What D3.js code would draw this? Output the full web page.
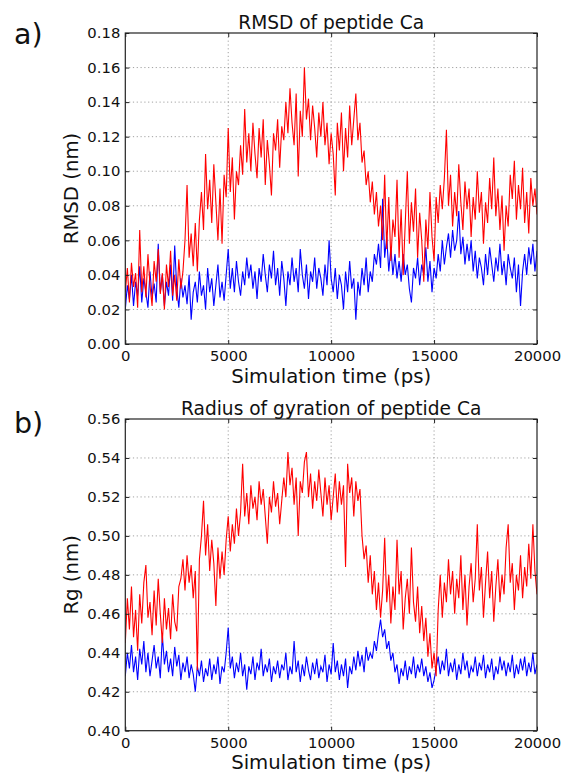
<!DOCTYPE html>
<html>
<head>
<meta charset="utf-8">
<script src="https://cdn.jsdelivr.net/npm/d3@7"></script>
<style>
  body { margin: 0; background: #fff; }
  text { font-family: "DejaVu Sans", sans-serif; fill: #111; }
</style>
</head>
<body>
<div id="chart"></div>
<script>
// sampled every 100 ps, 0 .. 20000 ps
const timeStep = 100;

const xTicks = [0, 5000, 10000, 15000, 20000];
const rmsdTicks = [0.00, 0.02, 0.04, 0.06, 0.08, 0.10, 0.12, 0.14, 0.16, 0.18];
const rgTicks = [0.40, 0.42, 0.44, 0.46, 0.48, 0.50, 0.52, 0.54, 0.56];

// RMSD (nm), red trace
const rmsdRed = [
  0.030,0.044,0.024,0.047,0.033,0.041,0.021,0.066,0.030,0.045,
  0.027,0.052,0.034,0.022,0.048,0.036,0.055,0.029,0.041,0.020,
  0.046,0.033,0.054,0.028,0.040,0.025,0.049,0.032,0.042,0.060,
  0.092,0.050,0.064,0.045,0.070,0.042,0.072,0.088,0.066,0.110,
  0.078,0.095,0.070,0.104,0.082,0.060,0.090,0.058,0.098,0.085,
  0.125,0.088,0.108,0.072,0.100,0.092,0.115,0.098,0.136,0.105,
  0.122,0.100,0.128,0.110,0.096,0.125,0.108,0.130,0.092,0.118,
  0.104,0.086,0.122,0.112,0.130,0.102,0.126,0.118,0.140,0.122,
  0.148,0.128,0.115,0.145,0.097,0.135,0.120,0.160,0.130,0.142,
  0.118,0.138,0.125,0.108,0.134,0.120,0.140,0.115,0.128,0.104,
  0.122,0.110,0.086,0.128,0.112,0.134,0.100,0.125,0.108,0.138,
  0.115,0.130,0.145,0.118,0.128,0.105,0.112,0.092,0.100,0.082,
  0.094,0.075,0.088,0.068,0.080,0.060,0.098,0.055,0.085,0.048,
  0.072,0.062,0.095,0.050,0.078,0.040,0.070,0.100,0.058,0.082,
  0.065,0.090,0.050,0.076,0.060,0.036,0.072,0.055,0.088,0.062,
  0.048,0.085,0.070,0.092,0.078,0.096,0.124,0.080,0.098,0.068,
  0.088,0.074,0.104,0.082,0.066,0.094,0.078,0.090,0.062,0.085,
  0.072,0.100,0.076,0.088,0.058,0.082,0.070,0.096,0.078,0.108,
  0.074,0.090,0.066,0.086,0.054,0.080,0.068,0.098,0.084,0.106,
  0.072,0.092,0.078,0.102,0.070,0.088,0.064,0.096,0.080,0.090,
  0.075
];

// RMSD (nm), blue trace
const rmsdBlue = [
  0.020,0.034,0.026,0.040,0.022,0.036,0.028,0.045,0.024,0.038,
  0.030,0.021,0.042,0.027,0.035,0.024,0.058,0.030,0.040,0.022,
  0.036,0.028,0.046,0.025,0.057,0.032,0.021,0.038,0.027,0.034,
  0.023,0.040,0.014,0.030,0.036,0.024,0.042,0.028,0.034,0.020,
  0.044,0.030,0.038,0.022,0.034,0.046,0.027,0.036,0.025,0.040,
  0.055,0.032,0.044,0.030,0.048,0.036,0.028,0.042,0.034,0.050,
  0.038,0.046,0.032,0.042,0.026,0.044,0.036,0.052,0.040,0.030,
  0.046,0.038,0.054,0.034,0.044,0.028,0.048,0.038,0.022,0.042,
  0.034,0.050,0.036,0.044,0.030,0.055,0.040,0.032,0.046,0.026,
  0.042,0.036,0.050,0.032,0.044,0.038,0.028,0.046,0.034,0.060,
  0.038,0.030,0.044,0.026,0.040,0.034,0.020,0.042,0.030,0.048,
  0.032,0.038,0.014,0.036,0.028,0.044,0.034,0.050,0.030,0.042,
  0.036,0.052,0.046,0.058,0.044,0.084,0.050,0.062,0.042,0.056,
  0.040,0.052,0.038,0.048,0.036,0.052,0.040,0.046,0.032,0.024,
  0.044,0.038,0.050,0.034,0.046,0.040,0.056,0.036,0.048,0.030,
  0.044,0.038,0.052,0.042,0.060,0.046,0.056,0.064,0.050,0.066,
  0.054,0.060,0.077,0.052,0.062,0.046,0.058,0.048,0.060,0.042,
  0.054,0.038,0.050,0.044,0.034,0.052,0.040,0.056,0.046,0.036,
  0.050,0.042,0.058,0.040,0.048,0.034,0.052,0.044,0.038,0.050,
  0.030,0.046,0.022,0.042,0.052,0.040,0.056,0.046,0.058,0.042,
  0.054
];

// radius of gyration (nm), red trace
const rgRed = [
  0.445,0.468,0.452,0.474,0.448,0.462,0.441,0.470,0.455,0.476,
  0.485,0.458,0.466,0.449,0.472,0.454,0.478,0.460,0.445,0.468,
  0.452,0.463,0.447,0.470,0.456,0.451,0.474,0.478,0.488,0.472,
  0.490,0.476,0.485,0.468,0.482,0.431,0.488,0.500,0.518,0.490,
  0.506,0.482,0.498,0.486,0.464,0.494,0.478,0.492,0.480,0.498,
  0.510,0.492,0.506,0.496,0.514,0.500,0.512,0.537,0.510,0.522,
  0.506,0.526,0.514,0.520,0.508,0.528,0.516,0.524,0.510,0.496,
  0.520,0.512,0.528,0.515,0.522,0.506,0.518,0.530,0.520,0.543,
  0.526,0.535,0.516,0.530,0.500,0.528,0.522,0.538,0.543,0.520,
  0.532,0.514,0.528,0.518,0.534,0.522,0.510,0.530,0.516,0.526,
  0.508,0.520,0.532,0.512,0.528,0.516,0.526,0.484,0.537,0.522,
  0.530,0.510,0.528,0.518,0.524,0.500,0.488,0.495,0.476,0.490,
  0.470,0.482,0.462,0.476,0.458,0.472,0.499,0.466,0.480,0.455,
  0.474,0.462,0.498,0.470,0.482,0.452,0.468,0.478,0.460,0.494,
  0.466,0.456,0.474,0.450,0.464,0.446,0.458,0.438,0.450,0.432,
  0.440,0.428,0.462,0.480,0.458,0.476,0.466,0.488,0.470,0.482,
  0.460,0.478,0.468,0.490,0.462,0.480,0.454,0.474,0.486,0.466,
  0.478,0.506,0.472,0.484,0.458,0.476,0.492,0.468,0.482,0.456,
  0.474,0.488,0.466,0.480,0.470,0.494,0.506,0.476,0.486,0.462,
  0.480,0.472,0.490,0.468,0.484,0.474,0.496,0.478,0.506,0.482,
  0.470
];

// radius of gyration (nm), blue trace
const rgBlue = [
  0.428,0.440,0.432,0.444,0.430,0.438,0.426,0.442,0.434,0.446,
  0.430,0.440,0.428,0.436,0.444,0.432,0.438,0.427,0.449,0.434,
  0.441,0.430,0.437,0.428,0.443,0.433,0.439,0.426,0.435,0.430,
  0.438,0.427,0.434,0.429,0.420,0.433,0.428,0.436,0.425,0.432,
  0.428,0.437,0.426,0.434,0.429,0.438,0.424,0.433,0.430,0.440,
  0.453,0.432,0.438,0.427,0.435,0.430,0.440,0.428,0.434,0.421,
  0.433,0.429,0.438,0.426,0.435,0.431,0.442,0.428,0.434,0.430,
  0.437,0.425,0.433,0.429,0.436,0.427,0.434,0.431,0.440,0.426,
  0.433,0.429,0.446,0.430,0.436,0.425,0.434,0.428,0.438,0.431,
  0.426,0.435,0.429,0.437,0.427,0.433,0.430,0.439,0.425,0.434,
  0.429,0.445,0.430,0.436,0.426,0.434,0.428,0.437,0.422,0.433,
  0.429,0.438,0.431,0.441,0.433,0.439,0.430,0.443,0.436,0.440,
  0.437,0.446,0.441,0.450,0.457,0.448,0.452,0.442,0.446,0.436,
  0.440,0.430,0.434,0.424,0.432,0.428,0.436,0.426,0.433,0.429,
  0.438,0.427,0.434,0.430,0.437,0.428,0.433,0.425,0.430,0.422,
  0.426,0.432,0.438,0.429,0.436,0.431,0.442,0.428,0.435,0.430,
  0.437,0.426,0.434,0.429,0.440,0.431,0.436,0.427,0.433,0.430,
  0.438,0.428,0.435,0.431,0.439,0.427,0.434,0.430,0.437,0.426,
  0.433,0.429,0.438,0.431,0.436,0.428,0.435,0.430,0.439,0.427,
  0.434,0.429,0.437,0.431,0.438,0.428,0.435,0.430,0.440,0.429,
  0.434
];

let width = 562, height = 776;

let svg = d3.select("#chart")
  .append("svg")
    .attr("width", width)
    .attr("height", height);

let x = d3.scaleLinear()
    .domain([0, 20000])
    .range([125.3, 537]);

function drawPanel(opts) {
  let y = d3.scaleLinear()
      .domain(opts.domain)
      .range([opts.bottom, opts.top]);

  let g = svg.append("g");
  let clipId = "clip-" + opts.tag;

  g.append("clipPath")
      .attr("id", clipId)
    .append("rect")
      .attr("x", x.range()[0])
      .attr("y", opts.top)
      .attr("width", x.range()[1] - x.range()[0])
      .attr("height", opts.bottom - opts.top);

  // dotted grid
  g.append("g")
    .selectAll("line")
    .data(opts.yTicks.slice(1, -1))
    .join("line")
      .attr("x1", x.range()[0])
      .attr("x2", x.range()[1])
      .attr("y1", d => y(d))
      .attr("y2", d => y(d))
      .attr("stroke", "#8a8a8a")
      .attr("stroke-width", 0.8)
      .attr("stroke-dasharray", "1.2,2.6");

  g.append("g")
    .selectAll("line")
    .data(xTicks.slice(1, -1))
    .join("line")
      .attr("x1", d => x(d))
      .attr("x2", d => x(d))
      .attr("y1", opts.top)
      .attr("y2", opts.bottom)
      .attr("stroke", "#8a8a8a")
      .attr("stroke-width", 0.8)
      .attr("stroke-dasharray", "1.2,2.6");

  // traces: blue first, red on top
  let line = d3.line()
      .x((d, i) => x(i * timeStep))
      .y(d => y(d));

  let traces = g.append("g").attr("clip-path", `url(#${clipId})`);
  traces.append("path")
      .datum(opts.blue)
      .attr("d", line)
      .attr("fill", "none")
      .attr("stroke", "#0000ff")
      .attr("stroke-width", 1.1);
  traces.append("path")
      .datum(opts.red)
      .attr("d", line)
      .attr("fill", "none")
      .attr("stroke", "#ff0000")
      .attr("stroke-width", 1.1);

  // axes, classic inward ticks
  let xAxis = d3.axisBottom(x)
      .tickValues(xTicks)
      .tickFormat(d3.format("d"))
      .tickSizeInner(-4)
      .tickSizeOuter(0)
      .tickPadding(6.8);
  let yAxis = d3.axisLeft(y)
      .tickValues(opts.yTicks)
      .tickFormat(d3.format(".2f"))
      .tickSizeInner(-4)
      .tickSizeOuter(0)
      .tickPadding(5);

  let gx = g.append("g")
      .attr("transform", `translate(0,${opts.bottom})`)
      .call(xAxis);
  let gy = g.append("g")
      .attr("transform", `translate(${x.range()[0]},0)`)
      .call(yAxis);

  // top/right ticks
  g.append("g")
      .attr("transform", `translate(0,${opts.top})`)
      .call(d3.axisTop(x).tickValues(xTicks).tickSizeInner(-4).tickSizeOuter(0).tickFormat(""));
  g.append("g")
      .attr("transform", `translate(${x.range()[1]},0)`)
      .call(d3.axisRight(y).tickValues(opts.yTicks).tickSizeInner(-4).tickSizeOuter(0).tickFormat(""));

  g.selectAll(".domain").remove();
  g.selectAll(".tick line").attr("stroke", "#222");
  g.selectAll(".tick text")
      .style("font-family", "DejaVu Sans, sans-serif")
      .style("font-size", "14.8px")
      .attr("fill", "#111");

  // frame
  g.append("rect")
      .attr("x", x.range()[0])
      .attr("y", opts.top)
      .attr("width", x.range()[1] - x.range()[0])
      .attr("height", opts.bottom - opts.top)
      .attr("fill", "none")
      .attr("stroke", "#222")
      .attr("stroke-width", 1.2);

  // title
  g.append("text")
      .attr("x", (x.range()[0] + x.range()[1]) / 2)
      .attr("y", opts.top - 4)
      .attr("text-anchor", "middle")
      .style("font-size", "18.6px")
      .text(opts.title);

  // x label
  g.append("text")
      .attr("x", (x.range()[0] + x.range()[1]) / 2)
      .attr("y", opts.bottom + 38.5)
      .attr("text-anchor", "middle")
      .style("font-size", "19.7px")
      .text("Simulation time (ps)");

  // y label
  g.append("text")
      .attr("transform", `translate(78,${(opts.top + opts.bottom) / 2}) rotate(-90)`)
      .attr("text-anchor", "middle")
      .style("font-size", "19.7px")
      .text(opts.yLabel);

  // panel letter
  g.append("text")
      .attr("x", 14)
      .attr("y", opts.letterY)
      .style("font-size", "28.5px")
      .text(opts.letter);
}

drawPanel({
  tag: "a",
  top: 33, bottom: 344,
  domain: [0, 0.18],
  yTicks: rmsdTicks,
  red: rmsdRed, blue: rmsdBlue,
  title: "RMSD of peptide Ca",
  yLabel: "RMSD (nm)",
  letter: "a)", letterY: 44
});

drawPanel({
  tag: "b",
  top: 419, bottom: 730.7,
  domain: [0.40, 0.56],
  yTicks: rgTicks,
  red: rgRed, blue: rgBlue,
  title: "Radius of gyration of peptide Ca",
  yLabel: "Rg (nm)",
  letter: "b)", letterY: 432.5
});
</script>
</body>
</html>
